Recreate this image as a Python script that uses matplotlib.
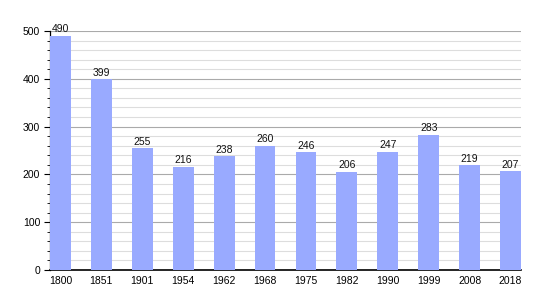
import matplotlib
matplotlib.use("Agg")
import matplotlib.pyplot as plt
from matplotlib.ticker import MultipleLocator

years = ["1800", "1851", "1901", "1954", "1962", "1968", "1975", "1982", "1990", "1999", "2008", "2018"]
population = [490, 399, 255, 216, 238, 260, 246, 206, 247, 283, 219, 207]

plt.rcParams["font.family"] = ["Liberation Sans", "DejaVu Sans"]

fig = plt.figure(figsize=(5.5, 3.0), dpi=100)
ax = fig.add_axes([50 / 550, 1 - 270 / 300, 471 / 550, 239 / 300])

x = list(range(len(years)))
ax.bar(x, population, width=0.51, color="#99aaff", zorder=3)
for xi, v in zip(x, population):
    ax.text(xi, v + 3, str(v), ha="center", va="bottom", fontsize=7.5, color="#111111", zorder=4)

ax.set_xlim(-0.255, len(years) - 1 + 0.255)
ax.set_ylim(0, 500)
ax.set_xticks(x)
ax.set_xticklabels(years)
ax.yaxis.set_major_locator(MultipleLocator(100))
ax.yaxis.set_minor_locator(MultipleLocator(20))

ax.grid(axis="y", which="major", color="#aaaaaa", linewidth=0.8, zorder=0)
ax.grid(axis="y", which="minor", color="#dddddd", linewidth=0.8, zorder=0)

for s in ["top", "right"]:
    ax.spines[s].set_visible(False)
ax.spines["left"].set_linewidth(0.9)
ax.spines["bottom"].set_linewidth(1.2)
ax.tick_params(axis="x", length=0, labelsize=7.5, pad=4)
ax.tick_params(axis="y", which="major", length=4, labelsize=7.5, pad=3)
ax.tick_params(axis="y", which="minor", length=2)

fig.savefig("out.png", dpi=100)
